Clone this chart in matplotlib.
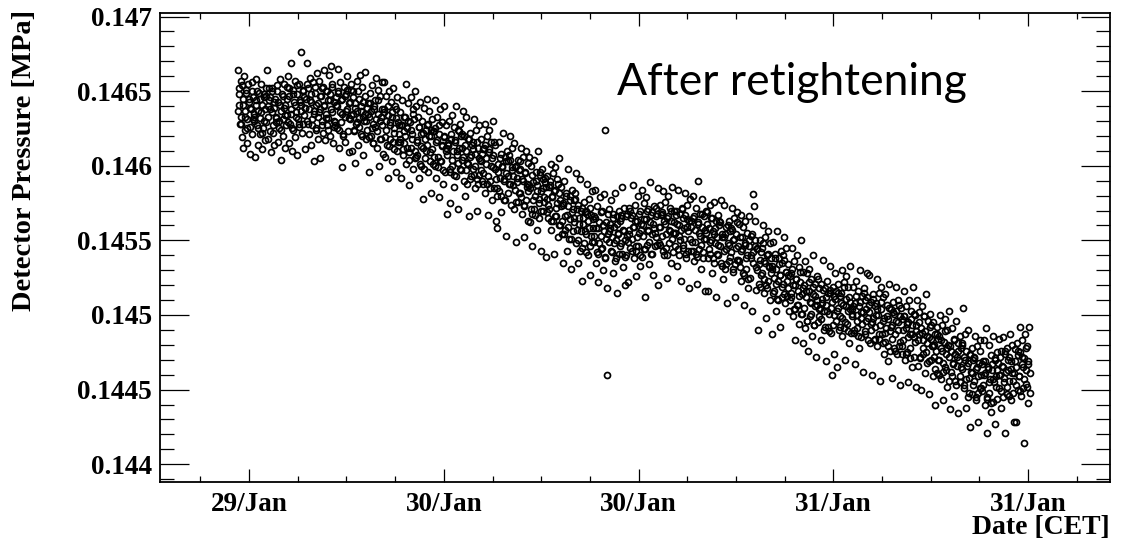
import numpy as np
import matplotlib
matplotlib.use("Agg")
import matplotlib.pyplot as plt

# detector pressure readings, units of 1e-5 MPa, logged at a fixed interval
# one line = roughly one hour of logging
p_29jan = [
    14664, 14652, 14641, 14628, 14657, 14633, 14619, 14645, 14612, 14660, 14637, 14624, 14649, 14631, 14615, 14655, 14643, 14626, 14608, 14638, 14650, 14621, 14646, 14633,
    14635, 14606, 14644, 14658, 14627, 14614, 14637, 14649, 14621, 14632, 14655, 14611, 14641, 14625, 14646, 14630, 14617, 14647, 14629, 14664, 14618, 14640, 14652, 14623,
    14646, 14609, 14636, 14652, 14622, 14639, 14614, 14645, 14629, 14632, 14650, 14616, 14643, 14625, 14658, 14604, 14637, 14648, 14620, 14631, 14655, 14612, 14641, 14627,
    14653, 14634, 14660, 14615, 14647, 14628, 14669, 14638, 14610, 14651, 14624, 14643, 14657, 14619, 14636, 14648, 14607, 14631, 14655, 14626, 14644, 14676, 14641, 14622,
    14650, 14628, 14646, 14611, 14639, 14645, 14630, 14669, 14652, 14621, 14638, 14659, 14614, 14643, 14627, 14656, 14603, 14635, 14649, 14624, 14641, 14662, 14618, 14633,
    14657, 14638, 14605, 14647, 14630, 14652, 14622, 14641, 14664, 14617, 14635, 14650, 14627, 14644, 14632, 14661, 14648, 14620, 14667, 14636, 14653, 14615, 14643, 14626,
    14627, 14646, 14641, 14625, 14665, 14650, 14612, 14636, 14656, 14629, 14599, 14645, 14620, 14653, 14633, 14616, 14648, 14638, 14660, 14623, 14642, 14609, 14631, 14651,
    14655, 14610, 14635, 14650, 14624, 14642, 14602, 14628, 14657, 14637, 14614, 14645, 14632, 14661, 14621, 14640, 14653, 14607, 14633, 14630, 14647, 14663, 14618, 14639,
    14624, 14642, 14633, 14596, 14649, 14620, 14637, 14654, 14615, 14628, 14640, 14626, 14644, 14659, 14612, 14635, 14651, 14600, 14630, 14647, 14618, 14638, 14656, 14608,
    14638, 14656, 14606, 14630, 14647, 14614, 14592, 14634, 14650, 14618, 14627, 14643, 14603, 14636, 14652, 14611, 14625, 14640, 14596, 14632, 14646, 14616, 14629, 14621,
    14618, 14636, 14592, 14627, 14644, 14611, 14623, 14615, 14633, 14655, 14601, 14625, 14642, 14609, 14587, 14629, 14646, 14612, 14621, 14638, 14598, 14631, 14650, 14605,
    14640, 14607, 14616, 14633, 14592, 14626, 14643, 14600, 14613, 14630, 14578, 14622, 14639, 14605, 14618, 14610, 14627, 14645, 14596, 14620, 14637, 14603, 14582, 14624,
    14631, 14601, 14623, 14606, 14625, 14644, 14592, 14617, 14633, 14599, 14579, 14621, 14638, 14603, 14613, 14629, 14588, 14619, 14640, 14596, 14610, 14627, 14568, 14615,
]
p_30jan_am = [
    14614, 14630, 14596, 14575, 14618, 14634, 14600, 14610, 14626, 14586, 14616, 14640, 14593, 14607, 14624, 14571, 14612, 14628, 14598, 14620, 14604, 14621, 14637, 14590,
    14620, 14580, 14610, 14633, 14588, 14601, 14618, 14566, 14606, 14622, 14593, 14614, 14598, 14616, 14631, 14585, 14608, 14624, 14591, 14570, 14612, 14627, 14594, 14604,
    14603, 14618, 14590, 14611, 14595, 14612, 14628, 14582, 14605, 14620, 14588, 14567, 14609, 14624, 14590, 14600, 14616, 14577, 14607, 14630, 14585, 14598, 14614, 14563,
    14580, 14558, 14601, 14616, 14583, 14592, 14608, 14569, 14599, 14622, 14577, 14590, 14606, 14553, 14595, 14610, 14582, 14603, 14588, 14604, 14620, 14574, 14597, 14612,
    14593, 14615, 14571, 14584, 14600, 14549, 14589, 14604, 14576, 14597, 14582, 14598, 14612, 14568, 14591, 14606, 14574, 14552, 14595, 14610, 14577, 14586, 14602, 14563,
    14606, 14562, 14585, 14600, 14568, 14546, 14589, 14604, 14571, 14580, 14596, 14557, 14587, 14610, 14565, 14578, 14594, 14543, 14583, 14598, 14570, 14591, 14576, 14592,
    14589, 14539, 14578, 14593, 14565, 14586, 14571, 14587, 14601, 14557, 14580, 14595, 14563, 14541, 14584, 14599, 14566, 14575, 14591, 14552, 14582, 14605, 14560, 14573,
    14586, 14554, 14535, 14575, 14590, 14557, 14566, 14582, 14543, 14573, 14598, 14551, 14564, 14580, 14531, 14569, 14584, 14556, 14577, 14562, 14578, 14595, 14548, 14571,
    14574, 14535, 14565, 14591, 14543, 14556, 14572, 14523, 14561, 14576, 14548, 14569, 14554, 14570, 14588, 14540, 14563, 14578, 14546, 14527, 14567, 14583, 14549, 14558,
    14549, 14566, 14584, 14535, 14558, 14573, 14541, 14522, 14562, 14579, 14544, 14553, 14570, 14530, 14560, 14581, 14538, 14624, 14551, 14518, 14460, 14568, 14556, 14571,
    14561, 14577, 14543, 14552, 14568, 14528, 14559, 14582, 14536, 14550, 14566, 14515, 14555, 14570, 14541, 14563, 14548, 14565, 14586, 14532, 14557, 14572, 14539, 14520,
    14540, 14553, 14568, 14522, 14557, 14572, 14545, 14565, 14551, 14567, 14587, 14538, 14559, 14574, 14543, 14526, 14563, 14580, 14546, 14555, 14570, 14533, 14561, 14584,
]
p_30jan_pm = [
    14539, 14560, 14575, 14544, 14512, 14564, 14579, 14547, 14556, 14571, 14534, 14562, 14589, 14541, 14554, 14569, 14527, 14558, 14573, 14546, 14566, 14552, 14568, 14585,
    14520, 14559, 14574, 14547, 14567, 14553, 14569, 14583, 14540, 14561, 14576, 14545, 14525, 14565, 14580, 14548, 14557, 14572, 14535, 14563, 14586, 14542, 14555, 14570,
    14546, 14555, 14570, 14533, 14561, 14584, 14540, 14553, 14568, 14523, 14557, 14572, 14545, 14565, 14551, 14567, 14582, 14538, 14559, 14574, 14543, 14518, 14563, 14578,
    14543, 14563, 14549, 14565, 14580, 14536, 14557, 14572, 14541, 14521, 14561, 14590, 14544, 14553, 14568, 14531, 14559, 14578, 14538, 14551, 14566, 14516, 14555, 14570,
    14569, 14538, 14516, 14558, 14574, 14541, 14550, 14565, 14528, 14556, 14576, 14535, 14548, 14563, 14512, 14552, 14567, 14540, 14560, 14546, 14562, 14577, 14533, 14554,
    14524, 14552, 14574, 14531, 14544, 14559, 14508, 14548, 14563, 14536, 14556, 14542, 14558, 14572, 14529, 14550, 14565, 14534, 14512, 14554, 14569, 14537, 14546, 14561,
    14536, 14552, 14567, 14523, 14544, 14559, 14528, 14507, 14548, 14563, 14531, 14540, 14555, 14518, 14546, 14566, 14525, 14538, 14553, 14503, 14542, 14581, 14573, 14550,
    14563, 14517, 14530, 14545, 14490, 14534, 14550, 14519, 14542, 14528, 14545, 14560, 14515, 14536, 14552, 14520, 14498, 14540, 14556, 14523, 14532, 14548, 14510, 14538,
    14487, 14533, 14549, 14516, 14525, 14541, 14503, 14531, 14556, 14510, 14523, 14538, 14492, 14527, 14543, 14512, 14535, 14521, 14537, 14552, 14508, 14529, 14545, 14513,
    14518, 14534, 14503, 14526, 14512, 14528, 14545, 14499, 14520, 14536, 14504, 14483, 14524, 14540, 14507, 14516, 14532, 14494, 14522, 14550, 14501, 14514, 14529, 14481,
    14520, 14536, 14491, 14512, 14528, 14496, 14476, 14516, 14531, 14499, 14508, 14524, 14486, 14514, 14540, 14493, 14506, 14521, 14472, 14510, 14526, 14495, 14518, 14504,
    14505, 14521, 14483, 14511, 14537, 14490, 14503, 14518, 14469, 14507, 14523, 14492, 14515, 14501, 14517, 14533, 14488, 14509, 14460, 14493, 14474, 14513, 14528, 14496,
]
p_31jan = [
    14516, 14465, 14505, 14521, 14490, 14513, 14499, 14515, 14530, 14486, 14507, 14522, 14491, 14470, 14511, 14526, 14494, 14503, 14519, 14481, 14509, 14533, 14488, 14501,
    14504, 14519, 14488, 14467, 14508, 14523, 14491, 14500, 14516, 14478, 14506, 14530, 14485, 14498, 14513, 14462, 14502, 14518, 14487, 14510, 14496, 14512, 14528, 14483,
    14502, 14527, 14481, 14494, 14509, 14460, 14498, 14514, 14483, 14506, 14492, 14508, 14524, 14479, 14500, 14515, 14484, 14456, 14504, 14519, 14487, 14496, 14512, 14474,
    14514, 14482, 14491, 14507, 14469, 14497, 14521, 14476, 14489, 14504, 14458, 14493, 14509, 14478, 14501, 14487, 14503, 14519, 14474, 14495, 14510, 14479, 14453, 14499,
    14505, 14474, 14497, 14483, 14499, 14516, 14470, 14491, 14506, 14475, 14455, 14495, 14510, 14478, 14487, 14503, 14465, 14493, 14519, 14472, 14485, 14500, 14452, 14489,
    14510, 14466, 14487, 14502, 14471, 14450, 14491, 14506, 14474, 14483, 14499, 14461, 14489, 14514, 14468, 14481, 14496, 14447, 14485, 14501, 14470, 14493, 14479, 14495,
    14459, 14472, 14487, 14440, 14476, 14492, 14461, 14484, 14470, 14486, 14500, 14457, 14478, 14493, 14462, 14443, 14482, 14497, 14465, 14474, 14490, 14452, 14480, 14503,
    14456, 14437, 14476, 14491, 14459, 14468, 14484, 14446, 14474, 14496, 14453, 14466, 14481, 14434, 14470, 14486, 14455, 14478, 14464, 14480, 14505, 14451, 14472, 14487,
    14476, 14438, 14466, 14490, 14445, 14458, 14473, 14425, 14462, 14478, 14447, 14470, 14456, 14472, 14486, 14443, 14464, 14479, 14448, 14428, 14468, 14483, 14451, 14460,
    14467, 14453, 14469, 14483, 14440, 14461, 14491, 14445, 14421, 14465, 14480, 14448, 14457, 14473, 14435, 14463, 14486, 14442, 14455, 14470, 14427, 14459, 14475, 14444,
    14468, 14484, 14451, 14460, 14476, 14438, 14466, 14485, 14445, 14458, 14474, 14421, 14462, 14478, 14447, 14470, 14456, 14472, 14487, 14443, 14464, 14480, 14448, 14428,
    14461, 14477, 14428, 14465, 14481, 14450, 14473, 14459, 14475, 14492, 14446, 14467, 14483, 14451, 14414, 14471, 14487, 14454, 14463, 14479, 14441, 14469, 14492, 14448,
]

# further readings in the dense core of the band, same span, one line per hour
q_29jan = [
    14637, 14648, 14628, 14654, 14641, 14633, 14651, 14625, 14645, 14639, 14656, 14631,
    14630, 14641, 14650, 14625, 14645, 14636, 14622, 14648, 14638, 14652, 14633, 14644,
    14638, 14650, 14627, 14643, 14633, 14654, 14630, 14641, 14624, 14647, 14639, 14634,
    14645, 14629, 14652, 14635, 14625, 14648, 14641, 14633, 14654, 14628, 14643, 14637,
    14651, 14634, 14639, 14655, 14628, 14644, 14648, 14631, 14637, 14653, 14625, 14642,
    14636, 14647, 14627, 14653, 14640, 14632, 14650, 14624, 14644, 14638, 14655, 14630,
    14629, 14640, 14649, 14624, 14644, 14635, 14621, 14647, 14637, 14651, 14632, 14643,
    14634, 14646, 14623, 14639, 14629, 14650, 14626, 14637, 14620, 14643, 14635, 14630,
    14635, 14619, 14642, 14625, 14615, 14638, 14631, 14623, 14644, 14618, 14633, 14627,
    14636, 14619, 14624, 14640, 14613, 14629, 14633, 14616, 14622, 14638, 14610, 14627,
    14616, 14627, 14607, 14633, 14620, 14612, 14630, 14604, 14624, 14618, 14635, 14610,
    14606, 14617, 14626, 14601, 14621, 14612, 14598, 14624, 14614, 14628, 14609, 14620,
    14611, 14623, 14600, 14616, 14606, 14627, 14603, 14614, 14597, 14620, 14612, 14607,
]
q_30jan_am = [
    14614, 14598, 14621, 14604, 14594, 14617, 14610, 14602, 14623, 14597, 14612, 14606,
    14614, 14597, 14602, 14618, 14591, 14607, 14611, 14594, 14600, 14616, 14588, 14605,
    14597, 14608, 14588, 14614, 14601, 14593, 14611, 14585, 14605, 14599, 14616, 14591,
    14585, 14596, 14605, 14580, 14600, 14591, 14577, 14603, 14593, 14607, 14588, 14599,
    14587, 14599, 14576, 14592, 14582, 14603, 14579, 14590, 14573, 14596, 14588, 14583,
    14587, 14571, 14594, 14577, 14567, 14590, 14583, 14575, 14596, 14570, 14585, 14579,
    14586, 14569, 14574, 14590, 14563, 14579, 14583, 14566, 14572, 14588, 14560, 14577,
    14563, 14574, 14554, 14580, 14567, 14559, 14577, 14551, 14571, 14565, 14582, 14557,
    14550, 14561, 14570, 14545, 14565, 14556, 14542, 14568, 14558, 14572, 14553, 14564,
    14553, 14565, 14542, 14558, 14548, 14569, 14545, 14556, 14539, 14562, 14554, 14549,
    14558, 14542, 14565, 14548, 14538, 14561, 14554, 14546, 14567, 14541, 14556, 14550,
    14566, 14549, 14554, 14570, 14543, 14559, 14563, 14546, 14552, 14568, 14540, 14557,
]
q_30jan_pm = [
    14553, 14564, 14544, 14570, 14557, 14549, 14567, 14541, 14561, 14555, 14572, 14547,
    14548, 14559, 14568, 14543, 14563, 14554, 14540, 14566, 14556, 14570, 14551, 14562,
    14555, 14567, 14544, 14560, 14550, 14571, 14547, 14558, 14541, 14564, 14556, 14551,
    14559, 14543, 14566, 14549, 14539, 14562, 14555, 14547, 14568, 14542, 14557, 14551,
    14561, 14544, 14549, 14565, 14538, 14554, 14558, 14541, 14547, 14563, 14535, 14552,
    14543, 14554, 14534, 14560, 14547, 14539, 14557, 14531, 14551, 14545, 14562, 14537,
    14532, 14543, 14552, 14527, 14547, 14538, 14524, 14550, 14540, 14554, 14535, 14546,
    14532, 14544, 14521, 14537, 14527, 14548, 14524, 14535, 14518, 14541, 14533, 14528,
    14531, 14515, 14538, 14521, 14511, 14534, 14527, 14519, 14540, 14514, 14529, 14523,
    14527, 14510, 14515, 14531, 14504, 14520, 14524, 14507, 14513, 14529, 14501, 14518,
    14505, 14516, 14496, 14522, 14509, 14501, 14519, 14493, 14513, 14507, 14524, 14499,
    14497, 14508, 14517, 14492, 14512, 14503, 14489, 14515, 14505, 14519, 14500, 14511,
]
q_31jan = [
    14503, 14515, 14492, 14508, 14498, 14519, 14495, 14506, 14489, 14512, 14504, 14499,
    14506, 14490, 14513, 14496, 14486, 14509, 14502, 14494, 14515, 14489, 14504, 14498,
    14507, 14490, 14495, 14511, 14484, 14500, 14504, 14487, 14493, 14509, 14481, 14498,
    14488, 14499, 14479, 14505, 14492, 14484, 14502, 14476, 14496, 14490, 14507, 14482,
    14479, 14490, 14499, 14474, 14494, 14485, 14471, 14497, 14487, 14501, 14482, 14493,
    14483, 14495, 14472, 14488, 14478, 14499, 14475, 14486, 14469, 14492, 14484, 14479,
    14480, 14464, 14487, 14470, 14460, 14483, 14476, 14468, 14489, 14463, 14478, 14472,
    14479, 14462, 14467, 14483, 14456, 14472, 14476, 14459, 14465, 14481, 14453, 14470,
    14457, 14468, 14448, 14474, 14461, 14453, 14471, 14445, 14465, 14459, 14476, 14451,
    14449, 14460, 14469, 14444, 14464, 14455, 14441, 14467, 14457, 14471, 14452, 14463,
    14460, 14472, 14449, 14465, 14455, 14476, 14452, 14463, 14446, 14469, 14461, 14456,
    14469, 14453, 14476, 14459, 14449, 14472, 14465, 14457, 14478, 14452, 14467, 14461,
]

# first / last reading, hours after 29/Jan 00:00 CET
t_first = 11.32
t_last = 60.10

tick_hours = [12, 24, 36, 48, 60]
tick_labels = ["29/Jan", "30/Jan", "30/Jan", "31/Jan", "31/Jan"]

p = np.array(p_29jan + p_30jan_am + p_30jan_pm + p_31jan) * 1e-5
q = np.array(q_29jan + q_30jan_am + q_30jan_pm + q_31jan) * 1e-5
t = np.concatenate([np.linspace(t_first, t_last, len(p)), np.linspace(t_first, t_last, len(q))])
pressure = np.concatenate([p, q])

fnt = "Liberation Serif"

fig = plt.figure(figsize=(11.32, 5.42), dpi=100)
ax = fig.add_axes([160/1132, 60/542, 950/1132, 469/542])

ax.plot(t, pressure, 'o', ms=4.3, mfc='none', mec='black', mew=1.25)

ax.set_xlim(6.51, 65.05)
ax.set_ylim(0.143881, 0.1470235)

ax.set_xticks(tick_hours)
ax.set_xticklabels(tick_labels)
ax.set_xticks(np.arange(9, 65, 3), minor=True)
ax.set_yticks([0.144, 0.1445, 0.145, 0.1455, 0.146, 0.1465, 0.147])
ax.set_yticklabels(["0.144", "0.1445", "0.145", "0.1455", "0.146", "0.1465", "0.147"])
ax.set_yticks(np.arange(0.1439, 0.14705, 0.0001), minor=True)

ax.tick_params(axis='both', which='both', direction='in', top=True, right=True, width=0.9)
ax.tick_params(axis='x', which='major', length=9.4, pad=7)
ax.tick_params(axis='x', which='minor', length=4.4)
ax.tick_params(axis='y', which='major', length=20.9, pad=6)
ax.tick_params(axis='y', which='minor', length=10.4)
for lab in ax.get_xticklabels() + ax.get_yticklabels():
    lab.set_fontfamily(fnt)
    lab.set_fontweight('bold')
    lab.set_fontsize(19.5)
for s in ax.spines.values():
    s.set_linewidth(1.3)

fig.text(25/1132, 1 - 10/542, "Detector Pressure [MPa]", rotation=90, ha='center', va='top',
         fontfamily=fnt, fontweight='bold', fontsize=20.5)
fig.text(1110/1132, 1 - 528/542, "Date [CET]", ha='right', va='center',
         fontfamily=fnt, fontweight='bold', fontsize=20)
fig.text(617/1132, 1 - 95/542, "After retightening", ha='left', va='baseline',
         fontfamily='Lato', fontsize=32)

fig.savefig("out.png", dpi=100)
